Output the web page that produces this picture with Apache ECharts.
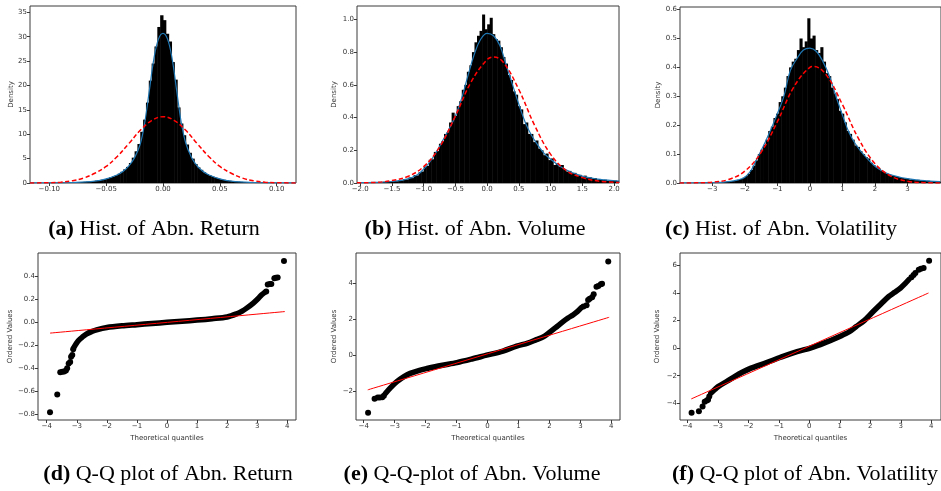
<!DOCTYPE html>
<html><head><meta charset="utf-8">
<script src="https://cdn.jsdelivr.net/npm/echarts@6/dist/echarts.min.js"></script>
<style>html,body{margin:0;padding:0;background:#fff}#c{width:941px;height:491px}</style>
</head><body><div id="c"></div>
<script>
// ---------- DATA ----------
// (a) histogram of abnormal return: bins start at -0.1, width 0.0025
const histAStart = -0.1, histAWidth = 0.0025;
const histA = [0.04,0.05,0.05,0.06,0.07,0.08,0.09,0.11,0.13,0.15,0.17,0.2,0.24,0.29,0.34,0.4,0.48,0.57,0.68,0.8,
  0.95,1.15,1.35,1.6,1.9,2.3,2.8,3.3,4.1,5.2,6.5,8.0,10.5,13.0,16.5,21.0,24.5,28.0,32.0,34.4,
  33.4,30.6,29.0,24.8,21.2,15.5,12.2,9.8,7.9,6.2,5.0,3.9,3.2,2.7,2.2,1.85,1.55,1.3,1.1,0.92,
  0.78,0.66,0.55,0.46,0.39,0.33,0.28,0.23,0.19,0.16,0.14,0.12,0.1,0.09,0.08,0.07,0.06,0.05,0.04,0.04];
const kdeA = [[-0.117,0.01],[-0.1,0.03],[-0.08,0.1],[-0.06,0.38],[-0.05,0.85],[-0.04,1.7],[-0.035,2.4],[-0.03,3.5],[-0.025,5.2],[-0.02,8.0],[-0.016,12.5],[-0.012,19.0],[-0.008,25.5],[-0.004,29.5],[0,30.7],[0.004,29.5],[0.008,25.5],[0.012,19.0],[0.016,12.5],[0.02,8.2],[0.025,5.3],[0.03,3.5],[0.035,2.4],[0.04,1.7],[0.05,0.85],[0.06,0.38],[0.08,0.1],[0.1,0.03],[0.117,0.01]];
const normA = [[-0.117,0.01],[-0.1,0.06],[-0.09,0.16],[-0.08,0.45],[-0.07,1.0],[-0.06,2.0],[-0.05,3.4],[-0.04,5.5],[-0.03,8.1],[-0.02,10.8],[-0.01,12.8],[0,13.6],[0.01,12.8],[0.02,10.8],[0.03,8.1],[0.04,5.5],[0.05,3.4],[0.06,2.0],[0.07,1.0],[0.08,0.45],[0.09,0.16],[0.1,0.06],[0.117,0.01]];

// (b) histogram of abnormal volume: bins start at -2.04, width 0.04
const histBStart = -2.04, histBWidth = 0.04;
const histB = [0.002,0.0,0.003,0.002,0.004,0.003,0.005,0.003,0.006,0.004,0.008,0.006,0.01,0.008,0.013,0.011,0.018,0.016,0.024,0.022,
  0.034,0.03,0.048,0.046,0.066,0.07,0.1,0.104,0.142,0.145,0.19,0.195,0.24,0.255,0.3,0.31,0.37,0.43,0.41,0.47,
  0.5,0.57,0.6,0.68,0.72,0.8,0.86,0.9,0.93,1.03,0.94,0.97,1.01,0.91,0.88,0.87,0.83,0.77,0.73,0.66,
  0.63,0.56,0.54,0.47,0.45,0.36,0.37,0.3,0.3,0.25,0.26,0.21,0.2,0.17,0.18,0.14,0.15,0.11,0.12,0.1,
  0.11,0.08,0.07,0.074,0.06,0.062,0.045,0.05,0.04,0.045,0.03,0.035,0.028,0.03,0.022,0.024,0.018,0.02,0.015,0.017,
  0.013,0.015,0.012];
const kdeB = [[-2.05,0.002],[-1.75,0.004],[-1.5,0.009],[-1.25,0.025],[-1.1,0.05],[-1.0,0.085],[-0.9,0.13],[-0.8,0.19],[-0.7,0.26],[-0.6,0.33],[-0.5,0.41],[-0.4,0.52],[-0.3,0.66],[-0.2,0.79],[-0.1,0.88],[0,0.915],[0.1,0.9],[0.2,0.84],[0.3,0.72],[0.4,0.6],[0.5,0.48],[0.6,0.37],[0.7,0.29],[0.8,0.23],[0.9,0.18],[1.0,0.145],[1.1,0.115],[1.2,0.09],[1.3,0.07],[1.4,0.055],[1.5,0.042],[1.6,0.033],[1.7,0.026],[1.8,0.021],[1.9,0.017],[2.0,0.014],[2.08,0.012]];
const normB = [[-2.05,0.001],[-1.75,0.004],[-1.5,0.015],[-1.25,0.04],[-1.0,0.1],[-0.75,0.22],[-0.5,0.41],[-0.25,0.62],[0,0.755],[0.1,0.77],[0.25,0.74],[0.5,0.57],[0.75,0.35],[1.0,0.175],[1.25,0.075],[1.5,0.033],[1.75,0.012],[2.08,0.003]];

// (c) histogram of abnormal volatility: bins start at -4.0, width 0.08
const histCStart = -4.0, histCWidth = 0.08;
const histC = [0.0,0.0,0.0,0.0005,0.0,0.0005,0.0,0.001,0.0005,0.001,0.0015,0.001,0.002,0.0015,0.002,0.003,0.003,0.004,0.005,0.006,
  0.007,0.009,0.011,0.014,0.018,0.024,0.032,0.045,0.06,0.078,0.1,0.115,0.132,0.15,0.18,0.195,0.225,0.24,0.28,0.3,
  0.33,0.37,0.4,0.42,0.43,0.46,0.5,0.47,0.49,0.57,0.5,0.51,0.46,0.45,0.47,0.42,0.38,0.37,0.33,0.31,
  0.29,0.25,0.24,0.21,0.18,0.17,0.15,0.13,0.125,0.11,0.1,0.09,0.085,0.07,0.062,0.055,0.05,0.042,0.038,0.033,
  0.03,0.026,0.024,0.021,0.02,0.017,0.016,0.015,0.012,0.013,0.01,0.011,0.009,0.009,0.007,0.008,0.006,0.006,0.005,0.005];
const kdeC = [[-4.0,0.0003],[-3.0,0.0015],[-2.5,0.005],[-2.2,0.011],[-2.0,0.02],[-1.8,0.045],[-1.6,0.09],[-1.4,0.135],[-1.2,0.185],[-1.0,0.24],[-0.8,0.3],[-0.6,0.39],[-0.4,0.43],[-0.2,0.46],[0,0.467],[0.2,0.455],[0.4,0.42],[0.6,0.37],[0.8,0.3],[1.0,0.235],[1.2,0.175],[1.4,0.135],[1.6,0.105],[1.8,0.08],[2.0,0.058],[2.2,0.043],[2.4,0.032],[2.6,0.025],[2.8,0.019],[3.0,0.015],[3.4,0.009],[4.0,0.005]];
const normC = [[-4.0,0.0001],[-3.5,0.0005],[-3.0,0.003],[-2.5,0.012],[-2.0,0.041],[-1.5,0.106],[-1.0,0.212],[-0.5,0.331],[0,0.4],[0.12,0.403],[0.5,0.374],[1.0,0.271],[1.5,0.152],[2.0,0.067],[2.5,0.023],[3.0,0.006],[3.5,0.0012],[4.0,0.0002]];

// (d) Q-Q plot of abnormal return
const qqBandD = [[-3.1,-0.22],[-2.95,-0.16],[-2.8,-0.125],[-2.67,-0.1],[-2.5,-0.08],[-2.34,-0.065],[-2.0,-0.045],[-1.5,-0.03],[-1.0,-0.02],[-0.5,-0.01],[0,0.0],[0.5,0.01],[1.0,0.02],[1.5,0.032],[2.0,0.047],[2.32,0.075],[2.5,0.098],[2.65,0.124],[2.87,0.168],[3.04,0.21],[3.15,0.24],[3.26,0.264]];
const qqTailD = [[-3.89,-0.785],[-3.65,-0.63],[-3.55,-0.435],[-3.48,-0.432],[-3.42,-0.428],[-3.36,-0.42],[-3.32,-0.40],[-3.27,-0.36],[-3.22,-0.345],[-3.19,-0.30],[-3.15,-0.285],[-3.12,-0.235],[3.3,0.27],[3.35,0.33],[3.42,0.335],[3.47,0.335],[3.57,0.385],[3.62,0.39],[3.68,0.392],[3.89,0.535]];
const qqFitD = [[-3.89,-0.094],[3.92,0.094]];

// (e) Q-Q plot of abnormal volume
const qqBandE = [[-3.3,-2.13],[-3.14,-1.82],[-2.93,-1.48],[-2.7,-1.2],[-2.5,-1.02],[-2.2,-0.85],[-1.96,-0.75],[-1.5,-0.58],[-0.99,-0.42],[-0.5,-0.22],[-0.03,-0.01],[0.5,0.22],[0.94,0.49],[1.3,0.66],[1.58,0.85],[1.8,1.0],[2.0,1.25],[2.2,1.52],[2.44,1.85],[2.6,2.05],[2.76,2.22],[2.9,2.4],[3.03,2.62]];
const qqTailE = [[-3.86,-3.2],[-3.65,-2.42],[-3.55,-2.36],[-3.48,-2.35],[-3.4,-2.34],[-3.35,-2.25],[3.1,2.68],[3.2,2.75],[3.25,3.05],[3.3,3.12],[3.38,3.2],[3.43,3.36],[3.52,3.78],[3.58,3.82],[3.66,3.92],[3.7,3.95],[3.9,5.18]];
const qqFitE = [[-3.87,-1.93],[3.93,2.09]];

// (f) Q-Q plot of abnormal volatility
const qqBandF = [[-3.23,-3.27],[-3.1,-3.0],[-2.99,-2.79],[-2.7,-2.4],[-2.45,-2.06],[-2.2,-1.75],[-1.91,-1.45],[-1.4,-1.05],[-0.94,-0.66],[-0.5,-0.32],[0.03,0.0],[0.5,0.38],[1.0,0.85],[1.3,1.17],[1.54,1.57],[1.8,2.0],[2.08,2.62],[2.35,3.2],[2.61,3.75],[2.8,4.05],[2.99,4.36],[3.15,4.7],[3.26,4.96]];
const qqTailF = [[-3.86,-4.68],[-3.62,-4.58],[-3.5,-4.24],[-3.43,-3.88],[-3.36,-3.8],[-3.32,-3.74],[-3.28,-3.5],[3.35,5.15],[3.42,5.3],[3.48,5.45],[3.59,5.69],[3.66,5.75],[3.75,5.81],[3.93,6.34]];
const qqFitF = [[-3.87,-3.68],[3.91,4.0]];

// tick labels
const xTicksA = [-0.1,-0.05,0,0.05,0.1], yTicksA = [0,5,10,15,20,25,30,35];
const xTicksB = [-2,-1.5,-1,-0.5,0,0.5,1,1.5,2], yTicksB = [0,0.2,0.4,0.6,0.8,1.0];
const xTicksC = [-3,-2,-1,0,1,2,3], yTicksC = [0,0.1,0.2,0.3,0.4,0.5,0.6];
const xTicksQQ = [-4,-3,-2,-1,0,1,2,3,4];
const yTicksD = [-0.8,-0.6,-0.4,-0.2,0,0.2,0.4], yTicksE = [-2,0,2,4], yTicksF = [-4,-2,0,2,4,6];
const captions = ['{b|(a)} Hist. of Abn. Return','{b|(b)} Hist. of Abn. Volume','{b|(c)} Hist. of Abn. Volatility',
  '{b|(d)} Q-Q plot of Abn. Return','{b|(e)} Q-Q-plot of Abn. Volume','{b|(f)} Q-Q plot of Abn. Volatility'];

// ---------- BUILD ----------
function toBins(start, width, vals){ return vals.map((v,i)=>[start+i*width, start+(i+1)*width, v]); }
function fmt(d){ return function(v){ let s=(+v).toFixed(d); if(parseFloat(s)===0) s=(0).toFixed(d); return s.replace('-','\u2212'); }; }
const AX = '#3a3a3a', LBL = '#333';
const FONT = 'DejaVu Sans';
function xAxis(gi, min, max, ticks, dec, name){
  return {type:'value', gridIndex:gi, min, max, splitLine:{show:false}, axisLine:{show:false, onZero:false},
    axisTick:{show:true, inside:false, length:3, lineStyle:{color:AX}, customValues:ticks},
    axisLabel:{customValues:ticks, formatter:fmt(dec), fontSize:7, fontFamily:FONT, color:LBL, margin:3},
    name:name||'', nameLocation:'middle', nameGap:15, nameTextStyle:{fontSize:7, fontFamily:FONT, color:LBL}};
}
function yAxis(gi, min, max, ticks, dec, name, gap){
  return {type:'value', gridIndex:gi, min, max, splitLine:{show:false}, axisLine:{show:false, onZero:false},
    axisTick:{show:true, inside:false, length:3, lineStyle:{color:AX}, customValues:ticks},
    axisLabel:{customValues:ticks, formatter:fmt(dec), fontSize:7, fontFamily:FONT, color:LBL, margin:3},
    name, nameLocation:'middle', nameRotate:90, nameGap:gap, nameTextStyle:{fontSize:7, fontFamily:FONT, color:LBL}};
}
function histSeries(gi, bins){
  return {type:'custom', xAxisIndex:gi, yAxisIndex:gi, data:bins, clip:true, z:1,
    renderItem:function(params, api){
      const p0 = api.coord([api.value(0), api.value(2)]);
      const p1 = api.coord([api.value(1), 0]);
      return {type:'rect', shape:{x:p0[0], y:p0[1], width:p1[0]-p0[0]+0.5, height:p1[1]-p0[1]}, style:{fill:'#000'}};
    }};
}
function lineS(gi, data, color, width, dashed, z){
  return {type:'line', xAxisIndex:gi, yAxisIndex:gi, data, smooth:0.4, showSymbol:false, symbol:'none', z:z||3, silent:true,
    lineStyle:{color, width, type: dashed?[4.5,2.5]:'solid'}};
}
function band(gi, data){
  return {type:'line', xAxisIndex:gi, yAxisIndex:gi, data, smooth:0.3, showSymbol:false, symbol:'none', z:2, silent:true,
    lineStyle:{color:'#000', width:5.5, cap:'round', join:'round'}};
}
function tail(gi, data){
  return {type:'scatter', xAxisIndex:gi, yAxisIndex:gi, data, symbolSize:6, itemStyle:{color:'#000', opacity:1}, z:2, silent:true};
}
const grids = [
  {left:30, top:6, width:266, height:177},
  {left:357, top:6, width:262, height:177},
  {left:680, top:7, width:265, height:176},
  {left:38, top:253, width:258, height:167},
  {left:356, top:253, width:264, height:167},
  {left:680, top:253, width:265, height:167}
].map(g=>Object.assign({show:true, borderColor:AX, borderWidth:1, backgroundColor:'transparent', containLabel:false}, g));

const capPos = [[154,229],[475,229],[781,229],[168,474],[472,474],[805,474]];
const titles = captions.map((t,i)=>({text:t, left:capPos[i][0], top:capPos[i][1], textAlign:'center', textVerticalAlign:'middle', padding:0,
  textStyle:{fontFamily:'Liberation Serif', fontSize:22, fontWeight:'normal', color:'#000',
    rich:{b:{fontFamily:'Liberation Serif', fontSize:22, fontWeight:'bold', color:'#000'}}}}));

const option = {
  animation:false,
  title: titles,
  grid: grids,
  xAxis: [
    xAxis(0,-0.117,0.117,xTicksA,2),
    xAxis(1,-2.05,2.076,xTicksB,1),
    xAxis(2,-3.99,4.026,xTicksC,0),
    xAxis(3,-4.29,4.29,xTicksQQ,0,'Theoretical quantiles'),
    xAxis(4,-4.25,4.28,xTicksQQ,0,'Theoretical quantiles'),
    xAxis(5,-4.24,4.32,xTicksQQ,0,'Theoretical quantiles')
  ],
  yAxis: [
    yAxis(0,0,36.3,yTicksA,0,'Density',15),
    yAxis(1,0,1.082,yTicksB,1,'Density',19),
    yAxis(2,0,0.609,yTicksC,1,'Density',18),
    yAxis(3,-0.852,0.605,yTicksD,1,'Ordered Values',24),
    yAxis(4,-3.6,5.65,yTicksE,0,'Ordered Values',18),
    yAxis(5,-5.21,6.9,yTicksF,0,'Ordered Values',19)
  ],
  series: [
    histSeries(0, toBins(histAStart, histAWidth, histA)),
    lineS(0, kdeA, '#1f77b4', 1.2, false, 3),
    lineS(0, normA, '#ff0000', 1.5, true, 4),
    histSeries(1, toBins(histBStart, histBWidth, histB)),
    lineS(1, kdeB, '#1f77b4', 1.2, false, 3),
    lineS(1, normB, '#ff0000', 1.5, true, 4),
    histSeries(2, toBins(histCStart, histCWidth, histC)),
    lineS(2, kdeC, '#1f77b4', 1.2, false, 3),
    lineS(2, normC, '#ff0000', 1.5, true, 4),
    band(3, qqBandD), tail(3, qqTailD), lineS(3, qqFitD, '#ff0000', 1, false, 5),
    band(4, qqBandE), tail(4, qqTailE), lineS(4, qqFitE, '#ff0000', 1, false, 5),
    band(5, qqBandF), tail(5, qqTailF), lineS(5, qqFitF, '#ff0000', 1, false, 5)
  ]
};
const chart = echarts.init(document.getElementById('c'), null, {renderer:'canvas'});
chart.setOption(option);
</script></body></html>
